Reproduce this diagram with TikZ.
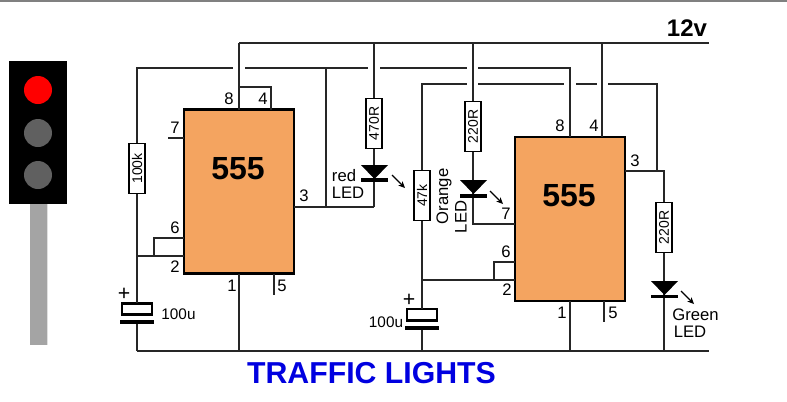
\documentclass[tikz,border=0pt]{standalone}
\usepackage{fontspec}
\setmainfont{Liberation Sans}
\usetikzlibrary{arrows.meta}
\definecolor{chipfill}{HTML}{F4A460}
\definecolor{lampoff}{HTML}{606060}
\definecolor{polegray}{HTML}{A4A4A4}
\definecolor{titleblue}{HTML}{0000E0}
\tikzset{
  x=0.75pt,y=-0.75pt,
  wire/.style={draw=black!85,line width=1.05pt,line cap=butt},
  chip/.style={draw=black,line width=2.1pt,fill=chipfill,minimum width=82.5pt,minimum height=123pt,inner sep=0pt,outer sep=0pt},
  chiptext/.style={inner sep=0pt,font=\bfseries\fontsize{24}{24}\selectfont},
  resbox/.style={draw=black,line width=0.9pt,fill=white,rotate=90,minimum width=38pt,minimum height=12pt,inner sep=0pt,outer sep=0pt,font=\fontsize{10.5}{10.5}\selectfont},
  capbox/.style={draw=black,line width=2pt,fill=white,minimum width=22.5pt,minimum height=8.5pt,inner sep=0pt,outer sep=0pt},
  plate/.style={fill=black,draw=none,minimum width=25.5pt,minimum height=2.6pt,inner sep=0pt,outer sep=0pt},
  ledbar/.style={fill=black,draw=none,minimum width=20pt,minimum height=2.6pt,inner sep=0pt,outer sep=0pt},
  ledtri/.style={fill=black,draw=none},
  ledray/.style={draw=black,line width=0.8pt,-{Stealth[length=5pt,width=4.5pt]}},
  pinlabel/.style={inner sep=0pt,font=\fontsize{12.5}{12.5}\selectfont},
  txt/.style={inner sep=0pt,font=\fontsize{12.5}{12.5}\selectfont},
  caplabel/.style={inner sep=0pt,font=\fontsize{11.5}{11.5}\selectfont},
  plus/.style={inner sep=0pt,font=\fontsize{16}{16}\selectfont},
}
\begin{document}
\begin{tikzpicture}
\useasboundingbox (0,0) rectangle (787,401);
\fill[white] (0,0) rectangle (787,401);
\fill[gray] (0,0) rectangle (787,2);
% traffic light
\fill[polegray] (30,203) rectangle (47,345);
\fill[black!12] (47,203) rectangle (48,345);
\fill[black] (9,61) rectangle (67,204);
\fill[red] (38,90) circle (14);
\fill[lampoff] (38,133) circle (14);
\fill[lampoff] (38,175) circle (14);
% chips
\node[chip] (A) at (239,191.5) {};
\node[chiptext] (Atxt) at (238,169) {555};
\node[chip] (B) at (570,219) {};
\node[chiptext] (Btxt) at (569,196) {555};
% resistors
\node[resbox] (R1) at (137,168.5) {100k};
\node[resbox] (R2) at (374,123.5) {470R};
\node[resbox] (R3) at (422,195.5) {47k};
\node[resbox] (R4) at (473,126.5) {220R};
\node[resbox] (R5) at (664,227.5) {220R};
% capacitors
\node[capbox] (C1t) at (137,309) {};
\node[plate] (C1b) at (137,322) {};
\node[capbox] (C2t) at (422,314.5) {};
\node[plate] (C2b) at (422,328) {};
% rail points
\coordinate (T0) at (239,43);
\coordinate (T1) at (374,43);
\coordinate (T2) at (473,43);
\coordinate (T3) at (602,43);
\coordinate (Tend) at (709,43);
\coordinate (G0) at (137,351);
\coordinate (G1) at (239,351);
\coordinate (G2) at (422,351);
\coordinate (G3) at (570,351);
\coordinate (G4) at (664,351);
\coordinate (Gend) at (709,351);
% rails
\draw[wire] (T0) -- (Tend);
\draw[wire] (G0) -- (Gend);
% second line y=68
\coordinate (M0) at (137,68);
\coordinate (M1) at (233,68);
\coordinate (M2) at (245,68);
\coordinate (M3) at (326,68);
\coordinate (M4) at (368,68);
\coordinate (M5) at (380,68);
\coordinate (M6) at (467,68);
\coordinate (M7) at (478,68);
\coordinate (M8) at (570,68);
\draw[wire] (R1.east) -- (M0) -- (M1);
\draw[wire] (M2) -- (M4);
\draw[wire] (M5) -- (M6);
\draw[wire] (M7) -- (M8) -- (570,136.5);
% third line y=84
\coordinate (N0) at (422,84);
\coordinate (N1) at (467,84);
\coordinate (N2) at (478,84);
\coordinate (N3) at (564,84);
\coordinate (N4) at (576,84);
\coordinate (N5) at (597,84);
\coordinate (N6) at (608,84);
\coordinate (N7) at (657,84);
\coordinate (Bout) at (657,171);
\draw[wire] (R3.east) -- (N0) -- (N1);
\draw[wire] (N2) -- (N3);
\draw[wire] (N4) -- (N5);
\draw[wire] (N6) -- (N7) -- (Bout);
% chip A wiring
\draw[wire] (T0) -- (239,109.5);
\draw[wire] (239,87) -- (271,87) -- (271,109.5);
\draw[wire] (168,138) -- (183.5,138);
\draw[wire] (R1.west) -- (C1t.north);
\draw[wire] (137,256) -- (183.5,256);
\draw[wire] (183.5,238) -- (154,238) -- (154,256);
\draw[wire] (C1b.south) -- (G0);
\draw[wire] (239,274) -- (G1);
\draw[wire] (274,274) -- (274,295);
\draw[wire] (294,207) -- (374,207);
\draw[wire] (M3) -- (326,207);
\draw[wire] (T1) -- (R2.east);
\draw[wire] (R2.west) -- (374,207);
% chip B wiring
\draw[wire] (T2) -- (R4.east);
\draw[wire] (R4.west) -- (473,224) -- (515,224);
\draw[wire] (T3) -- (602,136.5);
\draw[wire] (R3.west) -- (C2t.north);
\draw[wire] (422,280) -- (515,280);
\draw[wire] (515,262) -- (494,262) -- (494,280);
\draw[wire] (C2b.south) -- (G2);
\draw[wire] (570,301) -- (G3);
\draw[wire] (604,301) -- (604,322);
\draw[wire] (625,171) -- (664,171) -- (R5.east);
\draw[wire] (R5.west) -- (G4);
% LEDs
\fill[ledtri] (361,165) -- (388,165) -- (374.5,179) -- cycle;
\node[ledbar] (L1) at (374.5,180) {};
\fill[ledtri] (460,180) -- (487,180) -- (473.5,194) -- cycle;
\node[ledbar] (L2) at (473.5,196) {};
\fill[ledtri] (651,281) -- (678,281) -- (664.5,295) -- cycle;
\node[ledbar] (L3) at (664.5,296.5) {};
\coordinate (a1s) at (392,175); \coordinate (a1e) at (405,188);
\coordinate (a2s) at (490,191); \coordinate (a2e) at (503,204);
\coordinate (a3s) at (681,291); \coordinate (a3e) at (694,304);
\draw[ledray] (a1s) -- (a1e);
\draw[ledray] (a2s) -- (a2e);
\draw[ledray] (a3s) -- (a3e);
% pin labels
\node[pinlabel] (pa8) at (229,99) {8};
\node[pinlabel] (pa4) at (263,99) {4};
\node[pinlabel] (pa7) at (175,128) {7};
\node[pinlabel] (pa6) at (175,228) {6};
\node[pinlabel] (pa2) at (175,267) {2};
\node[pinlabel] (pa1) at (232,286) {1};
\node[pinlabel] (pa5) at (282,286) {5};
\node[pinlabel] (pa3) at (304,196) {3};
\node[pinlabel] (pb8) at (560,126) {8};
\node[pinlabel] (pb4) at (594,126) {4};
\node[pinlabel] (pb3) at (635,161) {3};
\node[pinlabel] (pb7) at (506,214) {7};
\node[pinlabel] (pb6) at (506,252) {6};
\node[pinlabel] (pb2) at (507,290) {2};
\node[pinlabel] (pb1) at (562,313) {1};
\node[pinlabel] (pb5) at (613,313) {5};
% text
\node[inner sep=0pt,font=\bfseries\fontsize{18}{18}\selectfont] (v12) at (687,28) {12v};
\node[inner sep=0pt,font=\bfseries\fontsize{22.7}{22.7}\selectfont,text=titleblue] (title) at (371.5,373) {TRAFFIC LIGHTS};
\node[txt] (redt) at (344,176) {red};
\node[txt] (redled) at (348,193) {LED};
\node[txt] (greent) at (695.5,315) {Green};
\node[txt] (greenled) at (690,332) {LED};
\node[txt,rotate=90] (oranget) at (444,196.5) {Orange};
\node[txt,rotate=90] (orangeled) at (461,217) {LED};
\node[plus] (p1) at (124,294) {+};
\node[plus] (p2) at (409,300) {+};
\node[caplabel] (c1l) at (178.5,314) {100u};
\node[caplabel] (c2l) at (386,322) {100u};
\end{tikzpicture}
\end{document}
